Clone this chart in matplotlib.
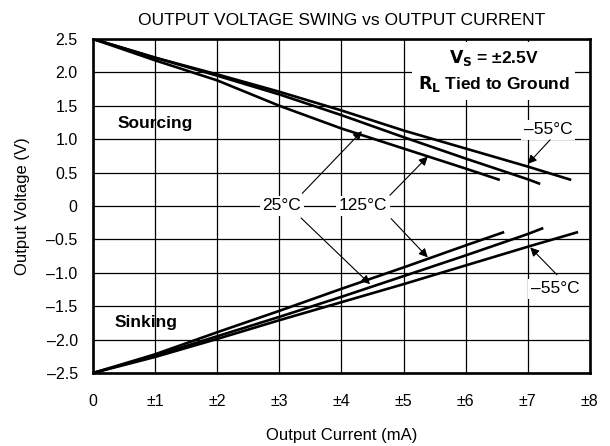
import matplotlib
matplotlib.use("Agg")
import matplotlib.pyplot as plt

plt.rcParams['font.family'] = ['Liberation Sans', 'DejaVu Sans']

# Sourcing curves (output current mA, output voltage V)
src_m55_x = [0, 1, 2, 3, 4, 5, 6, 7, 7.7]
src_m55_y = [2.5, 2.22, 1.97, 1.71, 1.43, 1.13, 0.86, 0.59, 0.39]
src_25_x = [0, 1, 2, 3, 4, 5, 6, 7, 7.2]
src_25_y = [2.5, 2.22, 1.95, 1.67, 1.36, 1.03, 0.71, 0.40, 0.33]
src_125_x = [0, 1, 2, 3, 4, 5, 6, 6.55]
src_125_y = [2.5, 2.18, 1.88, 1.50, 1.16, 0.86, 0.56, 0.39]

# Sinking curves
snk_m55_x = [0, 1, 2, 3, 4, 5, 6, 7, 7.81]
snk_m55_y = [-2.5, -2.26, -1.99, -1.71, -1.44, -1.17, -0.89, -0.61, -0.39]
snk_25_x = [0, 1, 2, 3, 4, 5, 6, 7, 7.25]
snk_25_y = [-2.5, -2.24, -1.95, -1.66, -1.36, -1.05, -0.74, -0.42, -0.33]
snk_125_x = [0, 1, 2, 3, 4, 5, 6, 6.62]
snk_125_y = [-2.5, -2.22, -1.89, -1.57, -1.24, -0.92, -0.59, -0.39]

x_ticks = [0, 1, 2, 3, 4, 5, 6, 7, 8]
x_labels = ['0', '±1', '±2', '±3', '±4', '±5', '±6', '±7', '±8']
y_ticks = [2.5, 2.0, 1.5, 1.0, 0.5, 0, -0.5, -1.0, -1.5, -2.0, -2.5]
y_labels = ['2.5', '2.0', '1.5', '1.0', '0.5', '0', '–0.5', '–1.0', '–1.5', '–2.0', '–2.5']

# Callout labels: (text, position) and arrows (start, tip)
labels = [('–55°C', (7.33, 1.14)), ('125°C', (4.35, 0.0)), ('25°C', (3.04, 0.0)),
          ('–55°C', (7.44, -1.24))]
arrows = [((7.36, 0.99), (7.0, 0.63)),
          ((4.78, 0.16), (5.39, 0.74)),
          ((4.80, -0.19), (5.39, -0.77)),
          ((3.37, 0.19), (4.33, 1.12)),
          ((3.35, -0.18), (4.46, -1.17)),
          ((7.47, -1.03), (7.04, -0.62))]

fig = plt.figure(figsize=(6.1, 4.46), dpi=100)
ax = fig.add_axes([0.1525, 0.1637, 0.8145, 0.7489])

for xs, ys in [(src_m55_x, src_m55_y), (src_25_x, src_25_y), (src_125_x, src_125_y),
               (snk_m55_x, snk_m55_y), (snk_25_x, snk_25_y), (snk_125_x, snk_125_y)]:
    ax.plot(xs, ys, color='black', lw=1.9, solid_capstyle='butt', zorder=3)

ax.set_xlim(0, 8)
ax.set_ylim(-2.5, 2.5)
ax.set_xticks(x_ticks)
ax.set_xticklabels(x_labels)
ax.set_yticks(y_ticks)
ax.set_yticklabels(y_labels)
ax.tick_params(length=0, labelsize=11.5)
ax.tick_params(axis='y', pad=11)
ax.tick_params(axis='x', pad=15)
ax.grid(True, color='black', lw=0.9)
ax.set_axisbelow(True)
for s in ax.spines.values():
    s.set_linewidth(1.9)

ax.set_xlabel('Output Current (mA)', fontsize=12, labelpad=14)
ax.set_ylabel('Output Voltage (V)', fontsize=12, labelpad=12)
ax.set_title('OUTPUT VOLTAGE SWING vs OUTPUT CURRENT', fontsize=12.5, pad=10)

ax.text(0.40, 1.24, 'Sourcing', fontsize=12.5, fontweight='bold', va='center', zorder=4)
ax.text(0.34, -1.75, 'Sinking', fontsize=12.5, fontweight='bold', va='center', zorder=4)

ax.text(6.45, 2.02, '$\\mathbf{V_S}$ = ±2.5V\n$\\mathbf{R_L}$ Tied to Ground',
        fontsize=12.5, fontweight='bold', ha='center', va='center', linespacing=1.4,
        bbox=dict(facecolor='white', edgecolor='none', pad=4), zorder=4)

for txt, pos in labels:
    ax.text(pos[0], pos[1], txt, fontsize=12.5, ha='center', va='center', zorder=4,
            bbox=dict(facecolor='white', edgecolor='none', pad=2))

for start, tip in arrows:
    ax.annotate('', xy=tip, xytext=start,
                arrowprops=dict(arrowstyle='-|>', color='black', lw=0.8,
                                mutation_scale=13, shrinkA=0, shrinkB=0), zorder=5)

fig.savefig('out.png', dpi=100)
